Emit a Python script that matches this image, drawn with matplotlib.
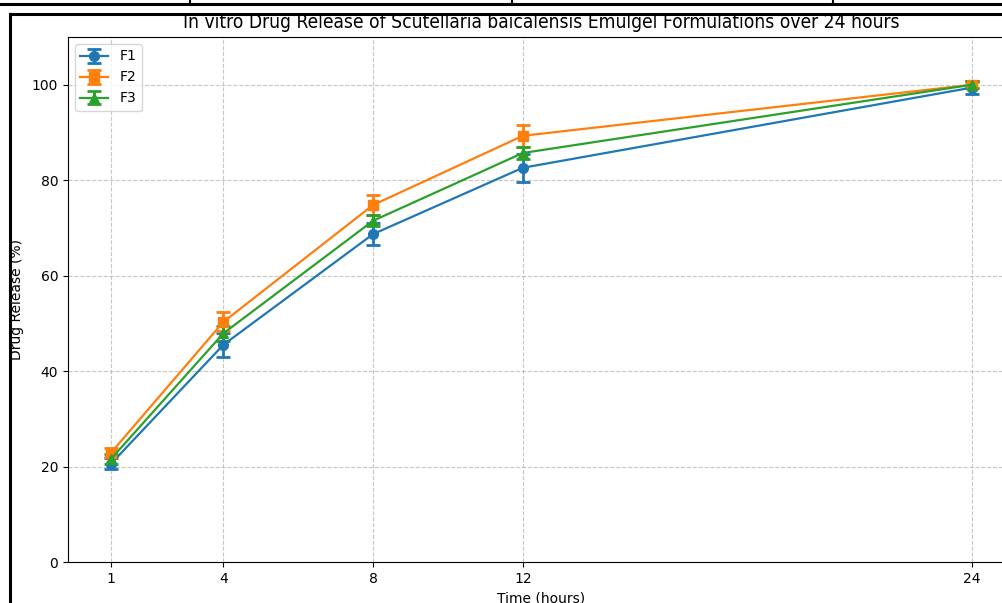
import matplotlib
matplotlib.use("Agg")
import matplotlib.pyplot as plt
from matplotlib.lines import Line2D

time_hours = [1, 4, 8, 12, 24]
f1_release = [20.6, 45.5, 68.7, 82.6, 99.4]
f1_err = [1.2, 2.5, 2.3, 2.9, 1.3]
f2_release = [22.9, 50.3, 74.8, 89.3, 100.0]
f2_err = [1.0, 2.0, 2.0, 2.3, 0.6]
f3_release = [21.6, 47.9, 71.5, 85.7, 100.0]
f3_err = [1.0, 1.5, 1.2, 1.2, 0.7]
series_labels = ["F1", "F2", "F3"]

W, H = 1003, 603
fig = plt.figure(figsize=(W / 100, H / 100), dpi=100)

def fx(px):
    return px / W

def fy(py):
    return 1 - py / H

ax = fig.add_axes([fx(68), fy(562), fx(1015) - fx(68), fy(37) - fy(562)])

kw = dict(capsize=5, elinewidth=2, capthick=2, linewidth=1.6, markersize=7)
ax.errorbar(time_hours, f1_release, yerr=f1_err, fmt='-o', label=series_labels[0], color='#1f77b4', **kw)
ax.errorbar(time_hours, f2_release, yerr=f2_err, fmt='-s', label=series_labels[1], color='#ff7f0e', **kw)
ax.errorbar(time_hours, f3_release, yerr=f3_err, fmt='-^', label=series_labels[2], color='#2ca02c', **kw)

ax.set_xticks(time_hours)
ax.set_xlim(-0.15, 25.15)
ax.set_ylim(0, 110)
ax.grid(True, linestyle='--', alpha=0.7)
ax.spines['right'].set_visible(False)
ax.legend(loc='upper left')
ax.set_xlabel("Time (hours)")

fig.text(fx(17), fy(300), "Drug Release (%)", rotation=90, ha='center', va='center', fontsize=10)
fig.text(fx(541), fy(22), "In vitro Drug Release of Scutellaria baicalensis Emulgel Formulations over 24 hours",
         ha='center', va='center', fontsize=13.8, fontstretch='condensed')

# surrounding frame decorations
fig.add_artist(Line2D([fx(0), fx(1003)], [fy(4), fy(4)], color='black', lw=2.2))
for xv in [190, 512, 833]:
    fig.add_artist(Line2D([fx(xv), fx(xv)], [fy(0), fy(4)], color='black', lw=1.5))
fig.add_artist(Line2D([fx(10), fx(1003)], [fy(14), fy(14)], color='black', lw=2.2))
fig.add_artist(Line2D([fx(10), fx(10)], [fy(14), fy(603)], color='black', lw=2.2))

fig.savefig("out.png", dpi=100)
